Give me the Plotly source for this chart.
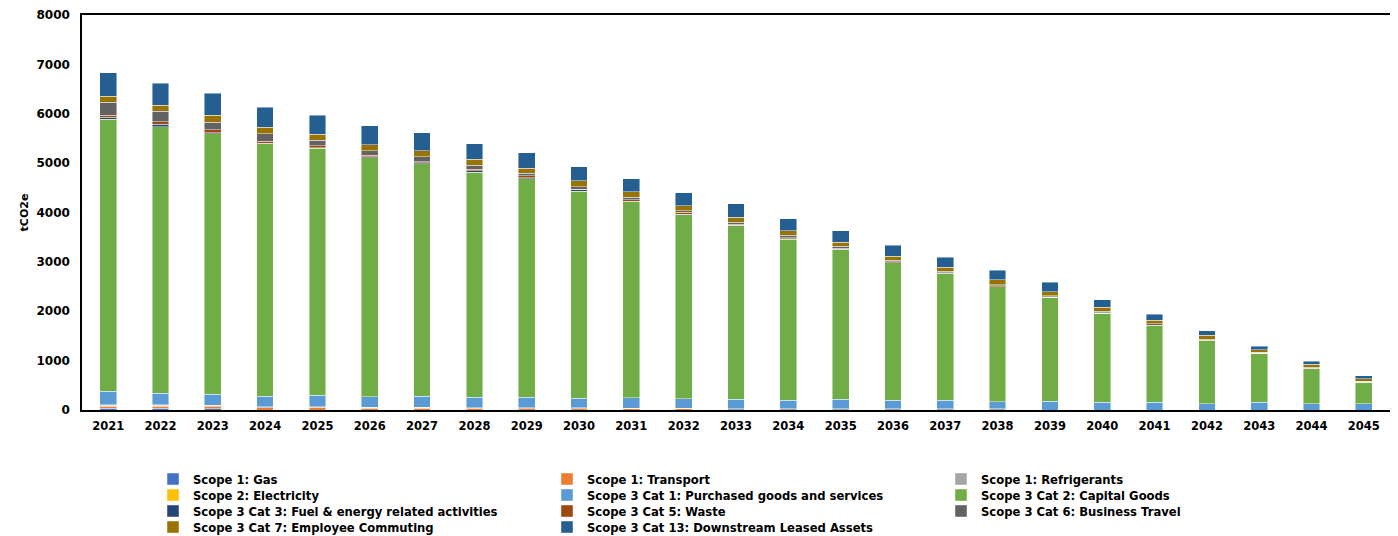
import plotly.graph_objects as go

years = [str(y) for y in range(2021, 2046)]

scope1_gas = [35, 35, 30, 0, 0, 0, 0, 0, 0, 0, 0, 0, 0, 0, 0, 0, 0, 0, 0, 0, 0, 0, 0, 0, 0]
scope1_transport = [45, 45, 40, 45, 55, 40, 40, 35, 30, 30, 25, 30, 0, 0, 0, 0, 0, 0, 0, 0, 0, 0, 0, 0, 0]
scope1_refrigerants = [20, 20, 17, 20, 10, 15, 15, 15, 15, 15, 10, 5, 30, 30, 30, 30, 30, 30, 0, 0, 0, 0, 0, 0, 0]
scope2_electricity = [5, 5, 5, 5, 5, 0, 0, 0, 0, 0, 0, 0, 0, 0, 0, 0, 0, 0, 0, 0, 0, 0, 0, 0, 0]
cat1_purchased = [270, 237, 230, 210, 225, 215, 227, 210, 216, 194, 215, 189, 189, 168, 189, 168, 168, 142, 176, 156, 156, 128, 156, 128, 128]
cat2_capital = [5514, 5399, 5277, 5115, 5006, 4840, 4706, 4556, 4427, 4190, 3968, 3731, 3509, 3259, 3023, 2780, 2565, 2321, 2112, 1808, 1552, 1276, 992, 709, 433]
cat3_fuel = [40, 47, 20, 10, 10, 20, 15, 25, 20, 27, 10, 10, 10, 10, 10, 5, 5, 5, 0, 0, 0, 0, 0, 0, 0]
cat5_waste = [40, 47, 54, 34, 40, 30, 27, 35, 34, 20, 34, 40, 20, 20, 20, 20, 15, 15, 10, 10, 10, 10, 10, 10, 10]
cat6_travel = [263, 216, 156, 154, 115, 95, 95, 81, 54, 47, 47, 34, 47, 50, 40, 30, 25, 25, 20, 25, 25, 15, 15, 15, 15]
cat7_commuting = [121, 121, 142, 129, 121, 121, 121, 121, 101, 121, 108, 101, 101, 95, 81, 81, 88, 101, 81, 81, 74, 81, 47, 67, 47]
cat13_leased = [474, 445, 445, 405, 385, 385, 365, 318, 316, 283, 263, 257, 270, 243, 236, 223, 202, 196, 189, 148, 121, 94, 67, 54, 61]

series = [
    ("Scope 1: Gas", scope1_gas, "#4472C4", "legend"),
    ("Scope 1: Transport", scope1_transport, "#ED7D31", "legend"),
    ("Scope 1: Refrigerants", scope1_refrigerants, "#A5A5A5", "legend"),
    ("Scope 2: Electricity", scope2_electricity, "#FFC000", "legend2"),
    ("Scope 3 Cat 1: Purchased goods and services", cat1_purchased, "#5B9BD5", "legend2"),
    ("Scope 3 Cat 2: Capital Goods", cat2_capital, "#70AD47", "legend2"),
    ("Scope 3 Cat 3: Fuel & energy related activities", cat3_fuel, "#264478", "legend3"),
    ("Scope 3 Cat 5: Waste", cat5_waste, "#9E480E", "legend3"),
    ("Scope 3 Cat 6: Business Travel", cat6_travel, "#636363", "legend3"),
    ("Scope 3 Cat 7: Employee Commuting", cat7_commuting, "#997300", "legend4"),
    ("Scope 3 Cat 13: Downstream Leased Assets", cat13_leased, "#255E91", "legend4"),
]

FONT = "DejaVu Sans"

fig = go.Figure()
for name, vals, color, lg in series:
    fig.add_trace(go.Bar(
        x=years, y=vals, name=name, legend=lg,
        marker=dict(color=color, line=dict(color="rgba(255,255,255,0.55)", width=0.8)),
    ))

# page body has an 8px default margin; compensate so the page matches the reference
OFF = 8
W, H = 1398 - OFF, 536 - OFF
ml, mr, mt, mb = 82 - OFF, 8, 15 - OFF, 126
ph = H - mt - mb
pw = W - ml - mr

def leg(ypage):
    ylay = ypage - OFF
    return dict(
        orientation="h", x=(153 - OFF - ml) / pw, xanchor="left",
        y=(H - mb - ylay) / ph, yanchor="middle",
        entrywidth=349, entrywidthmode="pixels",
        font=dict(family=FONT, size=11.6, color="#000000", weight="bold"),
        traceorder="normal", bgcolor="rgba(0,0,0,0)",
        itemclick=False, itemdoubleclick=False,
    )

fig.update_layout(
    barmode="stack",
    bargap=0.68,
    width=W, height=H,
    margin=dict(l=ml, r=mr, t=mt, b=mb, autoexpand=False),
    paper_bgcolor="white",
    plot_bgcolor="white",
    font=dict(family=FONT, size=11, color="#000000", weight="bold"),
    legend=leg(479),
    legend2=leg(495),
    legend3=leg(511),
    legend4=leg(527),
    xaxis=dict(
        type="category",
        showline=True, linecolor="#000000", linewidth=1.5, mirror=True,
        ticks="", showgrid=False,
        ticklabelstandoff=4,
        tickfont=dict(family=FONT, size=11.5, color="#000000", weight="bold"),
    ),
    yaxis=dict(
        range=[0, 8000], dtick=1000,
        showline=True, linecolor="#000000", linewidth=1.5, mirror=True,
        ticks="", showgrid=False, zeroline=False,
        ticklabelstandoff=8,
        tickfont=dict(family=FONT, size=12, color="#000000", weight="bold"),
        title=dict(text="tCO2e", standoff=6,
                   font=dict(family=FONT, size=11, color="#000000", weight="bold")),
    ),
)

fig.write_html("out.html")
